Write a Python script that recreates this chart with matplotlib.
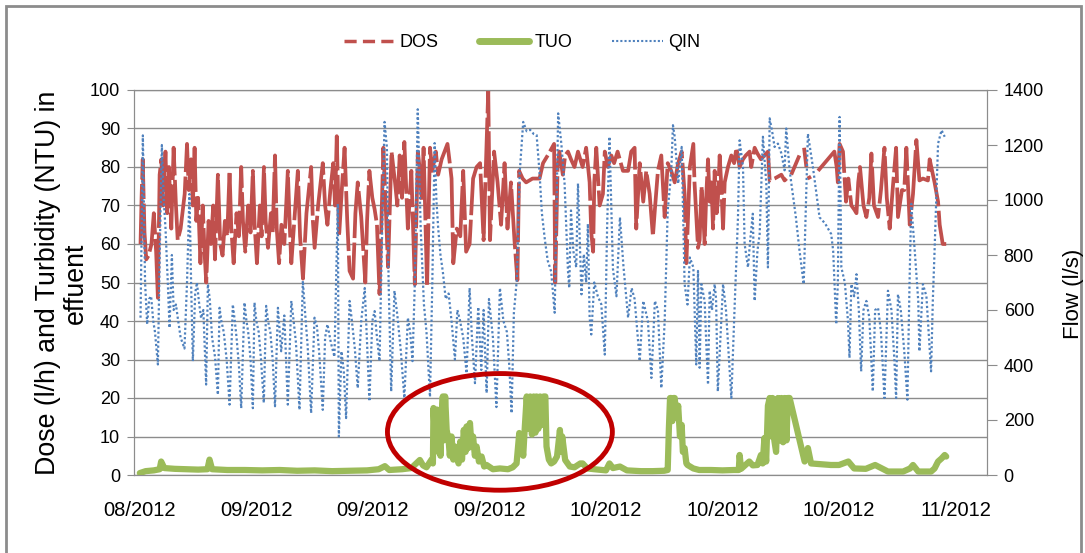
"""
Dose, turbidity and flow in the effluent, Aug-Nov 2012.

Dual-axis line chart: DOS and TUO on the left axis, QIN (flow) on the right.
The turbidity episode of late September is marked with a red ellipse.
"""
import numpy as np
import matplotlib.pyplot as plt
from matplotlib.lines import Line2D
from matplotlib.patches import Ellipse, Rectangle

plt.rcParams['font.family'] = ['Liberation Sans', 'DejaVu Sans']

# ---------------------------------------------------------------------------
# Data (x in days from the first label)
# ---------------------------------------------------------------------------

TICK_DAYS   = [0, 10, 20, 30, 40, 50, 60, 70]
TICK_LABELS = ["08/2012", "09/2012", "09/2012", "09/2012",
               "10/2012", "10/2012", "10/2012", "11/2012"]

nan = np.nan

DOS_DAY = [
    0.06, 0.15, 0.25, 0.4, 0.55, 0.75, 1.0, 1.2, 1.4, 1.55, 1.7, 1.85, 2.0, 2.2, 2.35,
    2.5, 2.7, 2.9, 3.1, 3.25, 3.5, 3.85, 4.05, 4.2, 4.4, 4.55, 4.7, 4.85, 5.0, 5.2,
    5.4, 5.55, 5.7, 5.9, 6.1, 6.3, 6.45, 6.7, 6.9, 7.1, 7.3, 7.5, 7.7, 7.85, 8.05,
    8.3, 8.5, 8.7, 8.85, 9.05, 9.3, 9.5, 9.7, 9.85, 10.05, 10.3, 10.45, 10.65, 10.8,
    11.0, 11.25, 11.4, 11.6, 11.75, 11.95,
    12.15, 12.4, 12.7, 12.85, 13.0, 13.3, 13.56, 13.75, 14.0, 14.3, 14.7, 14.85, 15.0,
    15.3, 15.7, 15.9, 16.1, 16.35, 16.6, 16.75, 16.9, 17.1, 17.35, 17.57, 17.8, 18.0,
    18.3, 18.5, 18.7, 19.0, 19.35, 19.5, 19.7, 19.95, 20.15, 20.35, 20.57, 20.9, 21.1,
    21.3, 21.6, 21.9, 22.1, 22.3, 22.5, 22.7, 23.0, 23.3, 23.6, 23.86,
    24.0, 24.2, 24.35, 24.5, 24.65, 24.9, 25.1, 25.4, 25.6, 25.9, 26.4, 26.6, 26.75,
    26.9, 27.2, 27.5, 27.75, 28.0, 28.3, 28.6, 28.9, 29.2, 29.5, 29.75, 29.9, 30.05,
    30.4, 30.7, 31.0, 31.3, 31.55, 31.85, 32.15, 32.4, 32.55, 32.85, 33.15, 33.7, 34.3,
    34.6, 35.1, 35.55, 35.65, 35.85,
    36.0, 36.3, 36.5, 36.74, 37.0, 37.3, 37.6, 38.0, 38.3, 38.6, 38.74, 38.9, 39.0,
    39.17, 39.46, 39.74, 39.9, 40.17, 40.46, 40.7, 41.0, 41.46, 41.9, 42.17, 42.46,
    42.6, 42.9, 43.2, 43.46, 43.75, 44.03, 44.2, 44.46, 44.75, 45.04, 45.3, 45.6, 45.9,
    46.2, 46.5, 46.75, 46.9, 47.2, 47.5, 47.6, 47.9,
    48.04, 48.2, 48.33, 48.47, 48.6, 48.76, 48.9, 49.05, 49.19, 49.33, 49.5, 49.6,
    49.76, 49.9, 50.05, 50.19, 50.47, 50.76, 51.0, 51.2, 51.47, 51.76, 52.0, 52.33,
    52.47, 52.76, 53.0, 53.3, 53.6, 53.9, 54.05, 54.47, 55.05, 55.33, 55.5, 55.7,
    55.9, 56.6, 56.8, 57.0, 57.2, 57.25, 57.3, 57.6, 57.9, 58.2, 59.6, 59.8,
    59.9, 60.05, 60.34, 60.6, 60.8, 61.06, 61.3, 61.5, 61.65, 61.8, 62.1, 62.35, 62.6,
    62.78, 63.0, 63.35, 63.6, 63.9, 64.1, 64.35, 64.6, 64.9, 65.06, 65.4, 65.6, 65.78,
    66.07, 66.35, 66.64, 66.9, 67.2, 67.63, 67.78, 68.2, 68.5, 68.64, 68.9, 69.2,
]
DOS_VAL = [
    60, 72, 82, 63, 56, 57, 60, 68, 58, 46, 78, 82, 70, 84, 68,
    80, 64, 85, 70, 61, 64, 73, 86, 74, 82, 70, 85, 66, 72, 55,
    70, 58, 50, 66, 60, 70, 56, 78, 60, 57, 66, 62, 79, 64, 55,
    68, 62, 80, 66, 58, 70, 63, 79, 65, 55, 70, 62, 80, 66,
    59, 68, 63, 83, 64, 55,
    65, 60, 79, 66, 55, 68, 79, 62, 51, 68, 80, 66, 59,
    70, 81, 70, 65, 74, 81, 70, 88, 62, 75, 85, 66, 53,
    51, 68, 76, 67, 50, 66, 79, 72, 69, 65, 47, 85, 70,
    54, 84, 76, 70, 83, 72, 86.5, 64, 79, 49.5, 84,
    80, 71, 85, 67, 49, 85, 79, 84, 78, 82, 86, 81, 77,
    55, 64, 62, 79, 58, 60, 77, 80, 81, 61, 85, 100, 61,
    84, 76, 65, 81, 64, 76, 61, 50.6, 79, 77, 76, 77, 77,
    81, 83.5, 86, 50, 80,
    84, 78, 83, 84, 82, 80, 84, 80, 85, 76, 63, 58, 76,
    85, 70, 73, 84, 80, 83, 81, 84, 79, 79, 84, 85,
    64, 81, 71, 79, 73, 62, 69, 79, 83, 67, 81, 79, 76,
    81, 84, 73, 55, 80, 86, 76, 59,
    61, 75, 69, 60, 72, 82, 71, 76, 64, 79, 68, 71,
    83, 75, 64, 76, 80, 83, 81, 85, 80, 82, 83, 84,
    80, 85, 83.5, 82, 83, 84, 76.5, 77, 78, 76.5, 77, nan,
    78, 83, nan, 85, 80, nan, 77, 77.5, nan, 79, 84, 80,
    76, 86, 84, 71, 77, 70, 69, 68, 76, 80, 70, 67, 72,
    83.5, 70, 67, 74, 85, 72, 64, 74, 85, 67, 74, 74, 85,
    65, 73, 87, 76.5, 77, 76.5, 82, 76, 71, 65, 60, 60,
]

TUO_DAY = [
    0.0, 0.5, 1.2, 1.7, 1.83, 2.1, 3.0, 4.0, 5.0, 5.8, 5.98, 6.2, 7.5, 9.0, 10.5,
    12.0, 13.5, 15.0, 16.5, 18.0, 19.5, 20.5, 21.03, 21.4, 22.5, 23.3, 24.03, 24.3,
    24.6, 25.03, 25.15, 25.2, 25.35, 25.5, 25.6, 25.7, 25.8, 25.9, 26.0, 26.1, 26.2,
    26.33, 26.5, 26.6, 26.75, 26.9, 27.04, 27.2, 27.35, 27.5, 27.65, 27.8, 27.95,
    28.04, 28.2, 28.33, 28.45, 28.6, 28.75, 28.9, 29.1, 29.33, 29.55, 29.76, 30.3,
    30.9, 31.6, 32.0, 32.33, 32.56, 32.7, 32.76, 32.9, 33.04, 33.2, 33.35, 33.5,
    33.65, 33.8, 33.95, 34.05, 34.2, 34.35, 34.5, 34.65, 34.8, 34.9, 35.1, 35.3,
    35.55, 35.8, 36.05, 36.15, 36.25, 36.5, 36.9, 37.3, 37.8, 38.0, 38.4, 39.0,
    40.0, 40.3, 40.6, 41.2, 41.8, 43.0, 44.0, 45.0, 45.3, 45.4, 45.5, 45.6, 45.7,
    45.8, 45.9, 46.05, 46.2, 46.35, 46.5, 46.6, 46.75, 46.9, 47.0, 47.5, 48.0, 49.0,
    50.0, 51.0, 51.4, 51.47, 51.6, 52.3, 52.6, 53.0, 53.3, 53.45, 53.6, 53.75, 53.9,
    54.05, 54.2, 54.3, 54.45, 54.6, 54.76, 54.9, 55.05, 55.2, 55.35, 55.5, 55.6,
    55.76, 57.05, 57.33, 57.6, 58.5, 59.3, 60.0, 60.8, 61.3, 62.3, 63.1, 64.2, 65.5,
    66.1, 66.35, 66.8, 67.9, 68.2, 68.5, 68.8, 69.07, 69.2,
]
TUO_VAL = [
    0.5, 1.0, 1.2, 1.5, 3.5, 1.8, 1.6, 1.5, 1.4, 1.5, 4.0, 1.5, 1.3, 1.3, 1.2,
    1.3, 1.1, 1.2, 1.0, 1.1, 1.2, 1.5, 2.3, 1.3, 1.5, 1.8, 3.9, 2.5,
    2.0, 4.0, 3.0, 17.4, 8, 17, 6, 10.9, 5, 16, 20.4, 9, 20.4,
    11.7, 9, 5, 10, 4, 7.4, 6.5, 3, 8.7, 4, 11.7, 6,
    12.6, 7, 13.5, 8, 10, 5, 7.4, 3.5, 4.8, 2.2, 2.6, 1.5,
    1.7, 1.5, 2.0, 3.0, 10.9, 6, 9, 5, 12.6, 20.4, 12, 20.4,
    10.5, 20.4, 11, 20.4, 12, 20.4, 13, 20.4, 20.4, 7.4, 4, 3,
    3.5, 4.8, 11.7, 6, 10, 3.9, 2.2, 2.0, 3.0, 3.0, 1.7, 1.5,
    1.2, 3.0, 1.8, 2.2, 1.2, 1.0, 1.0, 1.1, 1.3, 12, 20, 20, 14,
    20, 20, 15, 18, 10, 13, 6, 7, 3, 2.6, 1.7, 1.3, 1.3,
    1.2, 1.3, 1.3, 5.2, 1.6, 3.5, 2.5, 2.6, 5.2, 3, 9.6, 3.5, 18,
    20, 10, 20, 9, 6, 20, 9, 20, 8.5, 20, 9, 20,
    20, 3.5, 7, 3, 2.8, 2.6, 2.6, 3.5, 1.7, 1.6, 2.6, 0.9, 0.9,
    1.7, 2.6, 0.9, 0.9, 1.7, 3.5, 4.3, 5.2, 4.8,
]

QIN_DAY = [
    0.06, 0.26, 0.45, 0.63, 0.8, 0.97, 1.15, 1.3, 1.55, 1.75, 1.89, 2.05, 2.2, 2.4,
    2.55, 2.75, 2.9, 3.1, 3.26, 3.5, 3.83, 4.05, 4.26, 4.4, 4.55, 4.75, 4.9, 5.1,
    5.26, 5.45, 5.69, 5.84, 6.0, 6.2, 6.45, 6.7, 6.84, 7.0, 7.2, 7.45, 7.7, 7.98,
    8.15, 8.3, 8.5, 8.7, 8.98, 9.15, 9.3, 9.5, 9.7, 9.84, 10.0, 10.2, 10.4, 10.64,
    10.84, 11.0, 11.2, 11.4, 11.6, 11.85,
    12.13, 12.4, 12.7, 13.0, 13.2, 13.4, 13.7, 13.99, 14.2, 14.4, 14.7, 14.99, 15.2,
    15.4, 15.7, 15.9, 16.1, 16.4, 16.7, 16.99, 17.08, 17.3, 17.5, 17.7, 18.0, 18.2,
    18.45, 18.7, 19.0, 19.3, 19.5, 19.7, 19.95, 20.15, 20.35, 20.57, 20.8, 21.0,
    21.2, 21.35, 21.57, 21.85, 22.1, 22.4, 22.7, 23.0, 23.2, 23.4, 23.6, 23.85,
    24.1, 24.38, 24.6, 24.9, 25.1, 25.3, 25.45, 25.6, 25.8, 26.0, 26.25, 26.5, 26.75,
    27.04, 27.25, 27.47, 27.75, 28.04, 28.3, 28.5, 28.76, 29.04, 29.3, 29.5, 29.76,
    29.96, 30.3, 30.6, 30.9, 31.2, 31.5, 31.7, 31.9, 32.1, 32.35, 32.6, 32.9, 33.2,
    33.5, 33.8, 34.05, 34.3, 34.5, 34.76, 35.0, 35.3, 35.6, 35.9,
    36.17, 36.45, 36.74, 36.85, 37.0, 37.2, 37.45, 37.6, 37.9, 38.1, 38.3, 38.45,
    38.6, 38.74, 39.0, 39.3, 39.6, 39.9, 40.1, 40.3, 40.6, 40.9, 41.2, 41.5, 41.9,
    42.2, 42.46, 42.9, 43.2, 43.6, 43.9, 44.2, 44.46, 44.75, 45.04, 45.3, 45.6,
    45.75, 45.9, 46.2, 46.5, 46.75, 47.0, 47.2, 47.5, 47.75, 47.9, 48.04,
    48.19, 48.47, 48.6, 48.76, 48.9, 49.1, 49.33, 49.45, 49.6, 49.8, 50.05, 50.3,
    50.6, 50.76, 51.05, 51.33, 51.47, 51.76, 51.9, 52.19, 52.35, 52.6, 52.76, 53.0,
    53.19, 53.47, 53.76, 53.9, 54.05, 54.3, 54.47, 54.76, 55.05, 55.33, 55.47, 55.76,
    56.3, 56.6, 56.97, 57.33, 57.76, 58.33, 58.8, 59.33, 59.5, 59.76, 59.9, 60.05,
    60.2, 60.5, 60.77, 60.9, 61.06, 61.3, 61.5, 61.7, 61.9, 62.1, 62.35, 62.6, 62.9,
    63.1, 63.35, 63.6, 63.9, 64.2, 64.5, 64.75, 64.9, 65.06, 65.3, 65.6, 65.87,
    66.05, 66.2, 66.5, 66.8, 66.9, 67.2, 67.5, 67.9, 68.05, 68.2, 68.5, 68.8, 69.07,
]
QIN_VAL = [
    572, 1235, 700, 548, 640, 650, 560, 520, 402, 900, 1200, 1000, 900, 700,
    535, 800, 600, 620, 570, 500, 460, 700, 1022, 700, 414, 660, 700, 620,
    570, 600, 329, 694, 640, 500, 430, 292, 608, 560, 520, 420, 256, 620,
    560, 500, 400, 243, 627, 560, 520, 420, 243, 627, 560, 520, 420, 262,
    615, 560, 520, 420, 250, 608,
    450, 580, 256, 633, 560, 480, 237, 706, 580, 470, 225, 572, 540,
    440, 237, 500, 548, 480, 430, 986, 140, 450, 380, 207, 633, 560,
    460, 316, 560, 680, 480, 268, 560, 596, 500, 414, 900, 1284,
    1193, 700, 304, 670, 580, 450, 280, 572, 520, 414, 700, 1330,
    900, 620, 520, 284, 700, 1207, 1000, 900, 800, 740, 640, 660, 560,
    420, 600, 563, 500, 370, 680, 500, 334, 611, 382, 600, 298,
    640, 500, 247, 680, 560, 520, 400, 225, 590, 709, 1100, 1284, 1250,
    1255, 1240, 1236, 1100, 953, 855, 780, 740, 590, 1315,
    1205, 1060, 742, 680, 962, 815, 755, 1060, 657, 803, 700, 913,
    572, 511, 700, 650, 621, 438, 900, 1230, 750, 650, 937, 760, 572,
    680, 640, 414, 633, 560, 353, 633, 600, 316, 560, 962, 1100,
    1272, 1230, 1060, 1193, 694, 620, 791, 755, 402, 742, 390,
    694, 633, 487, 329, 670, 600, 694, 640, 304, 480, 694, 600,
    390, 280, 621, 937, 1217, 1120, 840, 755, 840, 950, 633, 815,
    876, 1230, 1060, 755, 1297, 1240, 1193, 1205, 1170, 1108, 1260, 1108,
    937, 820, 694, 1241, 1120, 937, 915, 876, 815, 548, 700, 1302,
    755, 700, 560, 426, 694, 650, 730, 600, 377, 600, 633, 572, 304,
    600, 608, 520, 280, 670, 600, 420, 280, 657, 600, 450, 274,
    694, 986, 815, 633, 450, 694, 650, 377, 633, 815, 1205, 1254, 1230,
]

# Ellipse that marks the turbidity episode (left-axis data units)
MARK_CENTER = (30.9, 11.2)
MARK_WIDTH  = 19.3
MARK_HEIGHT = 30.3

RED   = "#C0504D"
GREEN = "#9BBB59"
BLUE  = "#4F81BD"
GRID  = "#8C8C8C"

# ---------------------------------------------------------------------------
# Plot
# ---------------------------------------------------------------------------

fig = plt.figure(figsize=(10.85, 5.53), dpi=100)
ax = fig.add_axes([134 / 1085, 1 - 475 / 553, 853 / 1085, 385 / 553])
ax2 = ax.twinx()

ax.plot(DOS_DAY, DOS_VAL, color=RED, lw=2.7, linestyle=(0, (16, 1.2)), zorder=3)
ax.plot(TUO_DAY, TUO_VAL, color=GREEN, lw=4.5, solid_joinstyle="round",
        solid_capstyle="round", zorder=4)
ax2.plot(QIN_DAY, QIN_VAL, color=BLUE, lw=1.6, linestyle=(0, (1, 1.1)), zorder=3)

ax.set_xlim(-0.5, 72.7)
ax.set_ylim(0, 100)
ax2.set_ylim(0, 1400)
ax.set_yticks(range(0, 101, 10))
ax2.set_yticks(range(0, 1401, 200))
ax.set_xticks(TICK_DAYS)
ax.set_xticklabels(TICK_LABELS)

ax.grid(axis="y", color=GRID, lw=1)
ax.set_axisbelow(True)
for a in (ax, ax2):
    for s in a.spines.values():
        s.set_color(GRID)
ax.tick_params(axis="y", labelsize=13, length=5, color=GRID, pad=5)
ax2.tick_params(axis="y", labelsize=13, length=7, color=GRID, pad=5)
ax.tick_params(axis="x", labelsize=14.5, length=0, pad=19)

mark = Ellipse(MARK_CENTER, MARK_WIDTH, MARK_HEIGHT, transform=ax.transData,
               fill=False, edgecolor="#C00000", lw=3.5, clip_on=False, zorder=10)
ax2.add_patch(mark)

fig.text(62 / 1085, 1 - 283 / 553, "Dose (l/h) and Turbidity (NTU) in\neffuent",
         rotation=90, ha="center", va="center", multialignment="center",
         fontsize=19.3, linespacing=1.1)
fig.text(1073 / 1085, 1 - 294 / 553, "Flow (l/s)", rotation=90,
         ha="center", va="center", fontsize=16)

handles = [
    Line2D([], [], color=RED, lw=2.5, linestyle=(0, (3.5, 1.8))),
    Line2D([], [], color=GREEN, lw=5, solid_capstyle="round"),
    Line2D([], [], color=BLUE, lw=1.5, linestyle=(0, (1, 1))),
]
fig.legend(handles, ["DOS", "TUO", "QIN"], loc="center", ncol=3,
           bbox_to_anchor=(522 / 1085, 1 - 43 / 553), frameon=False, fontsize=13,
           handlelength=2.8, handletextpad=0.3, columnspacing=2.2)

fig.patches.append(Rectangle((6 / 1085, -0.02), 1075 / 1085, 1.02 - 6 / 553,
                             transform=fig.transFigure, fill=False,
                             edgecolor="#8C8C8C", lw=2))

fig.savefig("out.png", dpi=100)
